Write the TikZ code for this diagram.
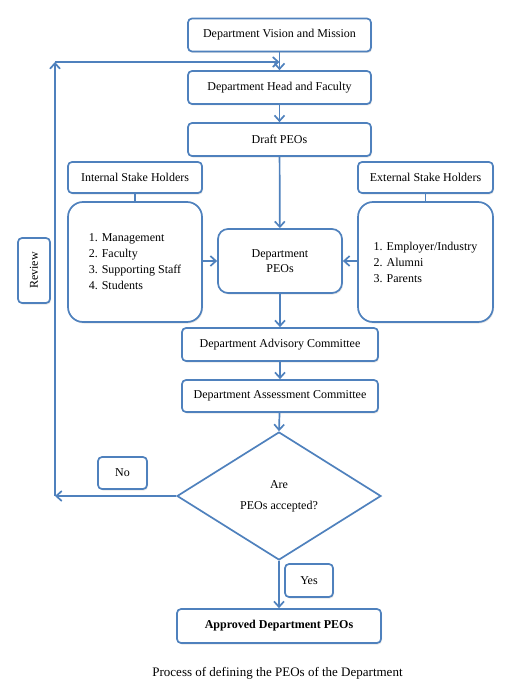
\documentclass[tikz,border=0pt]{standalone}
\usepackage{fontspec}
\setmainfont{Liberation Serif}
\usetikzlibrary{
	calc,
	shapes.geometric,
	arrows.meta,
	shadows
}
\definecolor{peoblue}{HTML}{4F81BD}

\begin{document}
\begin{tikzpicture}[
	x=1pt, y=-1pt,
	>={Straight Barb[length=5.5pt,width=10pt]},
	every node/.style={font=\fontsize{12}{16}\selectfont},
	box/.style={draw=peoblue, line width=1.7pt, rounded corners=4pt, fill=white,
		drop shadow={opacity=0.2, shadow xshift=1pt, shadow yshift=-1.5pt},
		inner sep=0, minimum width=183pt, minimum height=33pt},
	listbox/.style={box, rounded corners=15pt, minimum width=134pt, minimum height=120pt, align=left},
	decision/.style={draw=peoblue, line width=1.7pt, diamond, fill=white, inner sep=0,
		minimum width=204pt, minimum height=128pt, align=center},
	link/.style={draw=peoblue, line width=1.7pt}
]
	\useasboundingbox (0,0) rectangle (532,698);

	\node(vision)[box] at (279.5,35) {Department Vision and Mission};
	\node(head)[box] at (279.5,87.5) {Department Head and Faculty};
	\node(draft)[box] at (279.5,139.5) {Draft PEOs};

	\node(internal)[box, minimum width=134pt, minimum height=31pt] at (135,177.5) {Internal Stake Holders};
	\node(intlist)[listbox] at (135,262) {1. Management\\2. Faculty\\3. Supporting Staff\\4. Students};
	\node(external)[box, minimum width=135pt, minimum height=31pt] at (425.5,177.5) {External Stake Holders};
	\node(extlist)[listbox, minimum width=135pt] at (425.5,262) {1. Employer/Industry\\2. Alumni\\3. Parents};
	\node(peos)[box, minimum width=124pt, minimum height=64pt, rounded corners=10pt, align=center,
		font=\fontsize{12}{15}\selectfont] at (280,261) {Department\\PEOs};

	\node(review)[box, minimum width=65pt, minimum height=32pt, rotate=90] at (34,270.5) {Review};

	\node(advisory)[box, minimum width=196pt] at (280,344.5) {Department Advisory Committee};
	\node(assessment)[box, minimum width=196pt, minimum height=32pt] at (280,396) {Department Assessment Committee};
	\node(accepted)[decision] at (279,496) {Are\\[5pt]PEOs accepted?};
	\node(no)[box, minimum width=49pt, minimum height=32pt] at (122.5,473) {No};
	\node(yes)[box, minimum width=48pt, minimum height=33pt] at (309,580.5) {Yes};
	\node(approved)[box, minimum width=204pt, minimum height=34pt,
		font=\fontsize{12}{16}\selectfont\bfseries] at (279,626) {Approved Department PEOs};

	\node(caption)[font=\fontsize{13}{16}\selectfont] at (277.5,673) {Process of defining the PEOs of the Department};

	\coordinate (loopbottom) at (55,496);
	\coordinate (looptop) at (55,62);

	\draw[link, ->] (vision) -- (head);
	\draw[link, ->] (head) -- (draft);
	\draw[link, ->] (draft) -- (peos);
	\draw[link] (internal) -- (intlist);
	\draw[link] (external) -- (extlist);
	\draw[link, ->] (intlist.east |- peos.west) -- (peos.west);
	\draw[link, ->] (extlist.west |- peos.east) -- (peos.east);
	\draw[link, ->] (peos) -- (advisory);
	\draw[link, ->] (advisory) -- (assessment);
	\draw[link, ->] (assessment) -- (accepted.north);
	\draw[link, ->] (accepted.south) -- (approved.north -| accepted.south);

	\draw[link, ->] (accepted.west) -- (loopbottom);
	\draw[link, ->] (loopbottom) -- (looptop);
	\draw[link, ->] (looptop) -- (looptop -| head.north);
\end{tikzpicture}
\end{document}
